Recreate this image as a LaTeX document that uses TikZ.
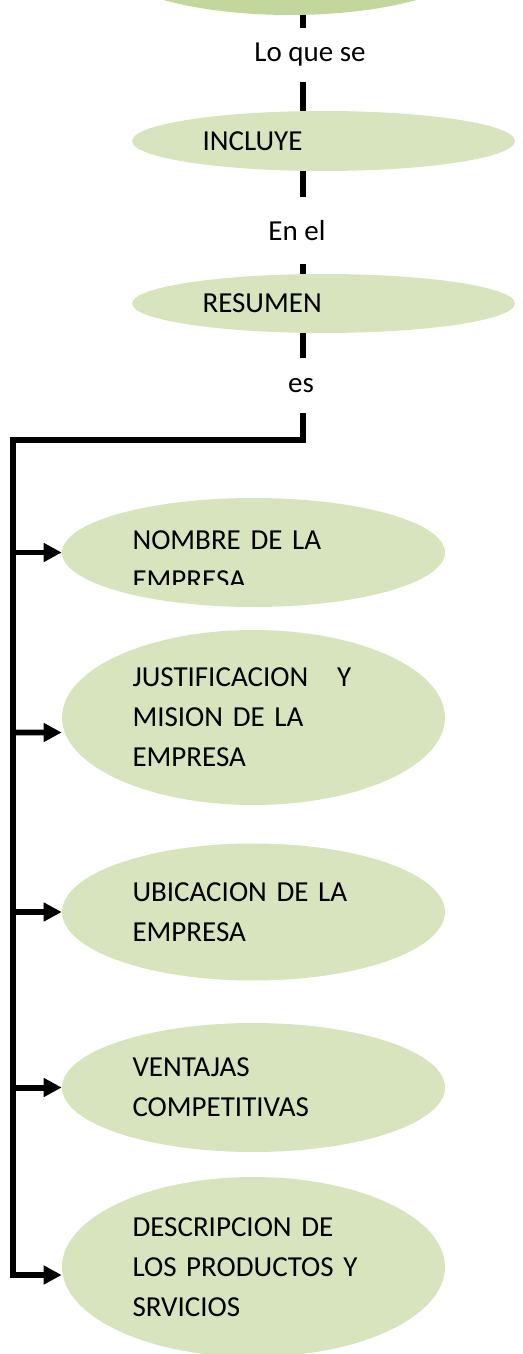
\documentclass[tikz,border=0pt]{standalone}
\usepackage{fontspec}
\setmainfont{Carlito}
\usepackage{xcolor}
\usepackage{tikz}
\usetikzlibrary{arrows.meta,shapes.geometric,calc}
\definecolor{ovalfill}{HTML}{D7E4BD}
\definecolor{topfill}{HTML}{C3D69B}

\begin{document}
\begin{tikzpicture}[x=0.02cm,y=-0.02cm,
  oval/.style={ellipse, fill=ovalfill, inner sep=0pt, minimum width=7.66cm,
    text width=4.84cm, align=left, font=\fontsize{16.5}{22.8}\selectfont},
  lbl/.style={inner sep=0pt, font=\fontsize{16.5}{20}\selectfont},
  conn/.style={line width=3.4pt},
  arr/.style={line width=3.4pt, -{Triangle[length=0.36cm,width=0.36cm]}}]
\useasboundingbox (0,0) rectangle (523,1354);

\coordinate (spine) at (303,0);
\node[oval, fill=topfill, minimum height=2.4cm] (top) at (290,-45) {};
\node[lbl, minimum height=1.08cm] (loque) at (310,55) {Lo que se};
\node[oval, minimum height=1.2cm] (incluye) at (323.5,141) {INCLUYE};
\node[lbl, minimum height=1.34cm] (enel) at (297,230.5) {En el};
\node[oval, minimum height=1.18cm] (resumen) at (323.5,303.5) {RESUMEN};
\node[lbl, minimum height=1.1cm] (es) at (301,385.5) {es};

\draw[conn] (top.south -| spine) -- (loque.north -| spine);
\draw[conn] (loque.south -| spine) -- (incluye.north -| spine);
\draw[conn] (incluye.south -| spine) -- (enel.north -| spine);
\draw[conn] (enel.south -| spine) -- (resumen.north -| spine);
\draw[conn] (resumen.south -| spine) -- (es.north -| spine);

\node[oval, minimum height=2.18cm] (nombre) at (253.5,552.5) {};
\begin{scope}
\clip (0,440) rectangle (523,584);
\node[oval, fill=none, minimum height=2.18cm] (nombretxt) at ([yshift=-0.15cm]nombre.center) {NOMBRE DE LA\\EMPRESA};
\end{scope}
\node[oval, minimum height=3.5cm] (justif) at (253.5,717.5) {JUSTIFICACION~~~Y\\MISION DE LA\\EMPRESA};
\node[oval, minimum height=2.74cm] (ubic) at (253.5,912) {UBICACION DE LA\\EMPRESA};
\node[oval, minimum height=2.58cm] (ventajas) at (253.5,1087.5) {VENTAJAS\\COMPETITIVAS};
\node[oval, minimum height=3.6cm] (desc) at (253.5,1267) {DESCRIPCION DE\\LOS PRODUCTOS Y\\SRVICIOS};

\coordinate (corner) at (13,440);
\draw[arr] (es.south -| spine) |- (corner) |- ([yshift=-0.16cm]desc.west);
\draw[arr] (corner |- nombre.west) -- (nombre.west);
\draw[arr] (corner |- justif.west) ++(0,15) -- ([yshift=-0.3cm]justif.west);
\draw[arr] (corner |- ubic.west) -- (ubic.west);
\draw[arr] (corner |- ventajas.west) -- (ventajas.west);
\end{tikzpicture}
\end{document}
